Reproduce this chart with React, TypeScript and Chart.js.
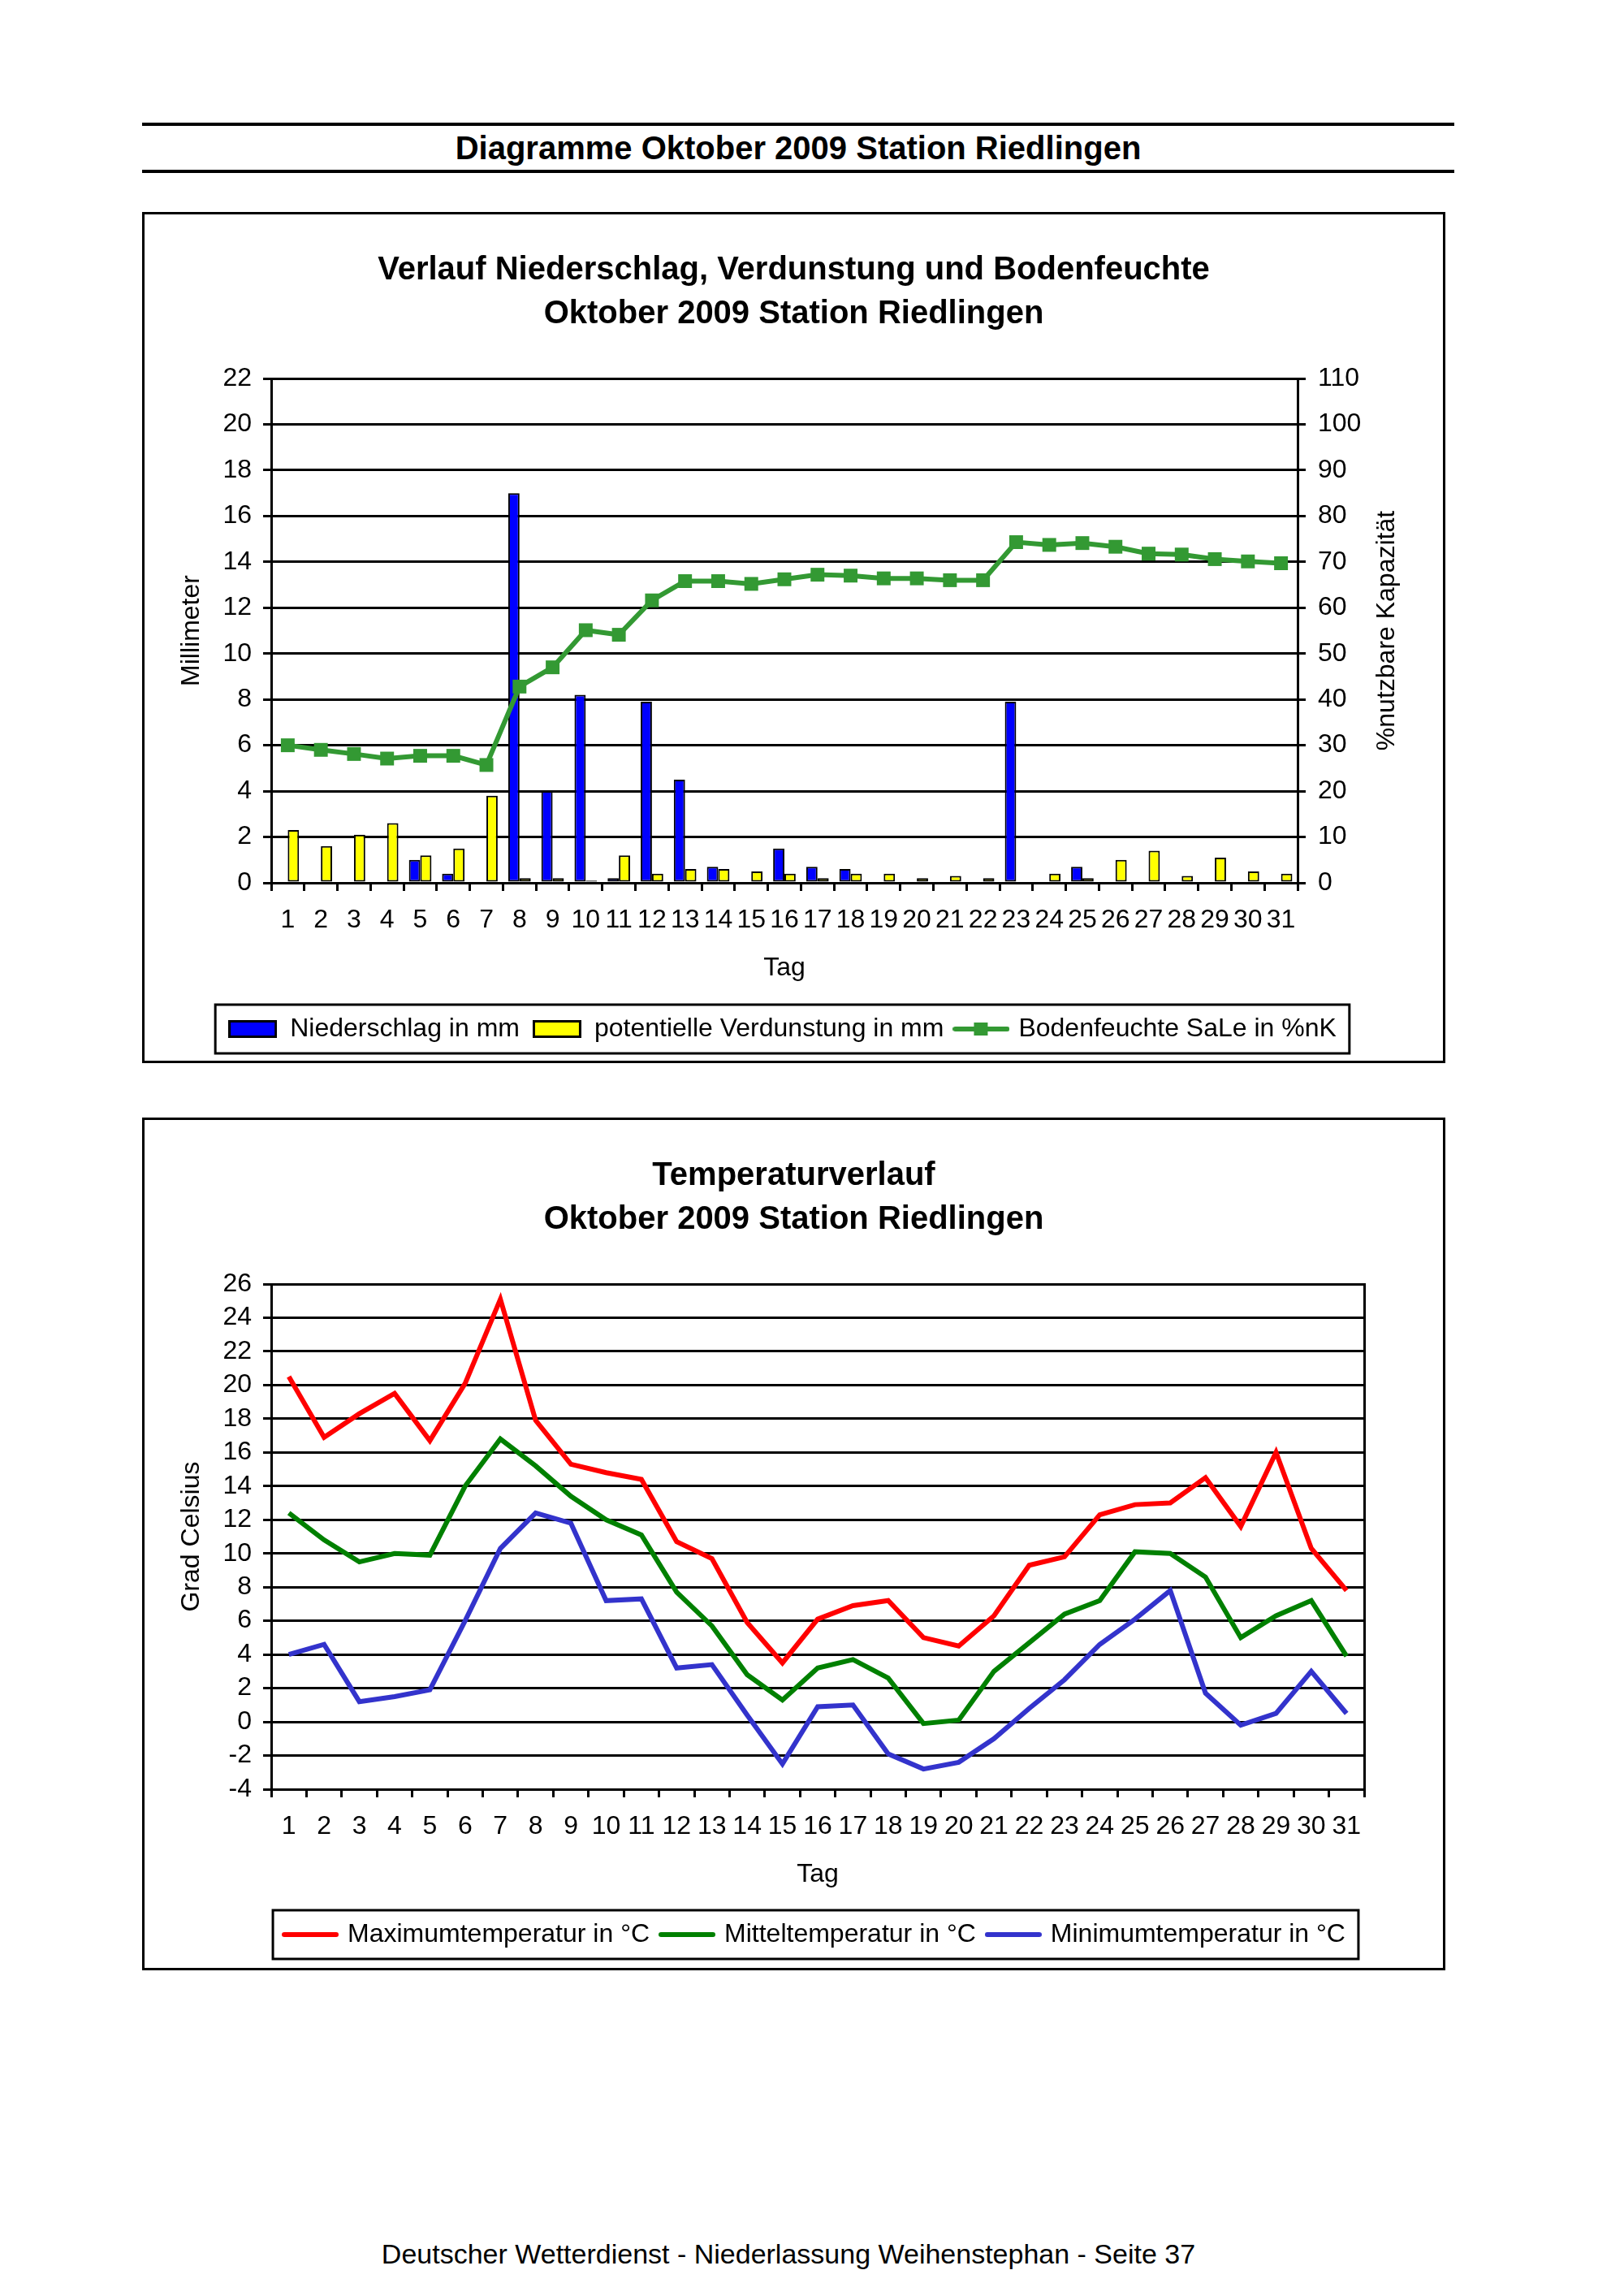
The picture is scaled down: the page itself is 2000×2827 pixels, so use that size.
import React, { useEffect, useRef } from 'react';
import { Chart, registerables } from 'chart.js';

Chart.register(...registerables);

const FONT = '"Liberation Sans", Arial, Helvetica, sans-serif';
Chart.defaults.font.family = FONT;
Chart.defaults.color = '#000';

// ---------- data ----------
const days = ['1', '2', '3', '4', '5', '6', '7', '8', '9', '10', '11', '12', '13', '14', '15', '16',
  '17', '18', '19', '20', '21', '22', '23', '24', '25', '26', '27', '28', '29', '30', '31'];

const niederschlag = [0, 0, 0, 0, 1.0, 0.4, 0, 17.0, 4.0, 8.2, 0.2, 7.9, 4.5, 0.7, 0, 1.5,
  0.7, 0.6, 0, 0, 0, 0, 7.9, 0, 0.7, 0, 0, 0, 0, 0, 0];
const verdunstung = [2.3, 1.6, 2.1, 2.6, 1.2, 1.5, 3.8, 0.2, 0.2, 0.1, 1.2, 0.4, 0.6, 0.6, 0.5, 0.4,
  0.2, 0.4, 0.4, 0.2, 0.3, 0.2, 0, 0.4, 0.2, 1.0, 1.4, 0.3, 1.1, 0.5, 0.4];
const bodenfeuchte = [30.0, 29.0, 28.1, 27.1, 27.7, 27.7, 25.7, 42.8, 47.0, 55.1, 54.1, 61.6, 65.8, 65.8, 65.2, 66.2,
  67.2, 67.0, 66.4, 66.4, 66.0, 66.0, 74.3, 73.7, 74.1, 73.3, 71.8, 71.6, 70.6, 70.1, 69.7];

const tMax = [20.5, 16.9, 18.3, 19.5, 16.7, 20.1, 25.1, 17.9, 15.3, 14.8, 14.4, 10.7, 9.7, 5.9, 3.5, 6.1,
  6.9, 7.2, 5.0, 4.5, 6.3, 9.3, 9.8, 12.3, 12.9, 13.0, 14.5, 11.6, 16.0, 10.3, 7.8];
const tMittel = [12.4, 10.8, 9.5, 10.0, 9.9, 14.0, 16.8, 15.2, 13.4, 12.0, 11.1, 7.7, 5.7, 2.8, 1.3, 3.2,
  3.7, 2.6, -0.1, 0.1, 3.0, 4.7, 6.4, 7.2, 10.1, 10.0, 8.6, 5.0, 6.3, 7.2, 3.9];
const tMin = [4.0, 4.6, 1.2, 1.5, 1.9, 6.0, 10.3, 12.4, 11.8, 7.2, 7.3, 3.2, 3.4, 0.4, -2.5, 0.9,
  1.0, -1.9, -2.8, -2.4, -1.0, 0.8, 2.5, 4.6, 6.1, 7.8, 1.7, -0.2, 0.5, 3.0, 0.5];

const pageTitle = 'Diagramme Oktober 2009 Station Riedlingen';
const chart1Title = ['Verlauf Niederschlag, Verdunstung und Bodenfeuchte', 'Oktober 2009 Station Riedlingen'];
const chart2Title = ['Temperaturverlauf', 'Oktober 2009 Station Riedlingen'];
const chart1Labels = ['Niederschlag in mm', 'potentielle Verdunstung in mm', 'Bodenfeuchte SaLe in %nK'];
const chart2Labels = ['Maximumtemperatur in °C', 'Mitteltemperatur in °C', 'Minimumtemperatur in °C'];
const xTitle = 'Tag';
const y1Title = 'Millimeter';
const y1RightTitle = '%nutzbare Kapazität';
const y2Title = 'Grad Celsius';
const footer = 'Deutscher Wetterdienst - Niederlassung Weihenstephan - Seite 37';

// ---------- helpers ----------
const tickFont = { family: FONT, size: 32, lineHeight: 1.2 };

function boxIcon(fill: string) {
  const c = document.createElement('canvas');
  c.width = 60; c.height = 22;
  const ctx = c.getContext('2d')!;
  ctx.fillStyle = '#000';
  ctx.fillRect(0, 0, 60, 22);
  ctx.fillStyle = fill;
  ctx.fillRect(3, 3, 54, 16);
  return c;
}

function lineIcon(color: string, marker: boolean) {
  const c = document.createElement('canvas');
  c.width = 70; c.height = 20;
  const ctx = c.getContext('2d')!;
  ctx.strokeStyle = color;
  ctx.lineWidth = 6;
  ctx.lineCap = 'round';
  ctx.beginPath();
  ctx.moveTo(3, 10);
  ctx.lineTo(67, 10);
  ctx.stroke();
  if (marker) {
    ctx.fillStyle = color;
    ctx.fillRect(26, 2, 17, 16);
  }
  return c;
}

const legendFrame = (dx: number) => ({
  id: 'legendFrame',
  afterLayout(chart: any) {
    const l = chart.legend;
    if (l) { l.left += dx; l.right += dx; }
  },
  afterDraw(chart: any) {
    const l = chart.legend;
    if (!l || !l.lineWidths) return;
    const pad = l.options.labels.padding;
    const span = l.lineWidths[0] - pad;
    const cx = (l.left + l.right) / 2;
    const cy = l.top + pad + 16;
    const ctx = chart.ctx;
    ctx.save();
    ctx.lineWidth = 3;
    ctx.strokeStyle = '#000';
    ctx.strokeRect(cx - span / 2 - 16, cy - 30, span + 32, 60);
    ctx.restore();
  },
});

const rightTitlePlugin = {
  id: 'rightTitle',
  afterDraw(chart: any) {
    const s = chart.scales.y1;
    const ctx = chart.ctx;
    ctx.save();
    ctx.translate(s.left + 110, (s.top + s.bottom) / 2);
    ctx.rotate(-Math.PI / 2);
    ctx.font = `32px ${FONT}`;
    ctx.fillStyle = '#000';
    ctx.textAlign = 'center';
    ctx.textBaseline = 'middle';
    ctx.fillText(y1RightTitle, 0, 0);
    ctx.restore();
  },
};

function legendOptions(icons: any[]) {
  return {
    display: true,
    position: 'bottom',
    labels: {
      usePointStyle: true,
      pointStyleWidth: 60,
      padding: 16,
      font: tickFont,
      color: '#000',
      sort: (a: any, b: any) => a.datasetIndex - b.datasetIndex,
      generateLabels: (chart: any) => {
        const items = (Chart.defaults.plugins.legend.labels as any).generateLabels(chart);
        return items.map((it: any) => ({ ...it, pointStyle: icons[it.datasetIndex], fontColor: '#000', lineWidth: 0 }));
      },
    },
  };
}

function xScale(titlePadBottom: number, height: number) {
  return {
    type: 'category',
    offset: true,
    grid: { display: true, drawOnChartArea: false, drawTicks: true, tickLength: 10, offset: true, color: '#000', lineWidth: 3 },
    border: { display: true, color: '#000', width: 3 },
    ticks: { font: tickFont, color: '#000', padding: 17, autoSkip: false, maxRotation: 0, minRotation: 0 },
    title: { display: true, text: xTitle, font: tickFont, color: '#000', padding: { top: 0, bottom: titlePadBottom } },
    afterFit: (s: any) => { s.height = height; },
  };
}

function makeChart1(canvas: HTMLCanvasElement) {
  const icons = [boxIcon('#0000ff'), boxIcon('#ffff00'), lineIcon('#339933', true)];
  return new Chart(canvas, {
    type: 'bar',
    data: {
      labels: days,
      datasets: [
        { type: 'bar', label: chart1Labels[0], data: niederschlag, backgroundColor: '#0000ff', borderColor: '#000', borderWidth: 2, borderSkipped: false, categoryPercentage: 0.68, barPercentage: 1.0, yAxisID: 'y', order: 1 },
        { type: 'bar', label: chart1Labels[1], data: verdunstung, backgroundColor: '#ffff00', borderColor: '#000', borderWidth: 2, borderSkipped: false, categoryPercentage: 0.68, barPercentage: 1.0, yAxisID: 'y', order: 1 },
        { type: 'line', label: chart1Labels[2], data: bodenfeuchte, borderColor: '#339933', backgroundColor: '#339933', borderWidth: 6, pointStyle: 'rect', pointRadius: 12, pointBorderWidth: 0, pointBackgroundColor: '#339933', tension: 0, yAxisID: 'y1', order: 0 },
      ],
    } as any,
    options: {
      responsive: false,
      animation: false,
      events: [],
      layout: { padding: { left: 0, right: 0, top: 0, bottom: 13 } },
      plugins: {
        title: { display: true, text: chart1Title, color: '#000', font: { family: FONT, size: 40, weight: 'bold', lineHeight: 1.35 }, padding: { top: 42, bottom: 52 } },
        legend: legendOptions(icons),
        tooltip: { enabled: false },
      },
      scales: {
        x: xScale(24, 148),
        y: {
          position: 'left', min: 0, max: 22,
          ticks: { stepSize: 2, font: tickFont, color: '#000', padding: 14 },
          grid: { color: '#000', lineWidth: 3, tickLength: 10 },
          border: { display: true, color: '#000', width: 3 },
          title: { display: true, text: y1Title, font: tickFont, color: '#000', padding: { top: 39, bottom: 0 } },
          afterFit: (s: any) => { s.width = 156; },
        },
        y1: {
          position: 'right', min: 0, max: 110,
          ticks: { stepSize: 10, font: tickFont, color: '#000', padding: 15 },
          grid: { drawOnChartArea: false, color: '#000', lineWidth: 3, tickLength: 10 },
          border: { display: true, color: '#000', width: 3 },
          afterFit: (s: any) => { s.width = 179; },
        },
      },
    } as any,
    plugins: [legendFrame(-14), rightTitlePlugin] as any,
  });
}

function makeChart2(canvas: HTMLCanvasElement) {
  const icons = [lineIcon('#ff0000', false), lineIcon('#008000', false), lineIcon('#3333cc', false)];
  const line = (label: string, data: number[], color: string) => ({
    type: 'line', label, data, borderColor: color, backgroundColor: color, borderWidth: 6, pointRadius: 0, tension: 0, fill: false, yAxisID: 'y',
  });
  return new Chart(canvas, {
    type: 'line',
    data: {
      labels: days,
      datasets: [
        line(chart2Labels[0], tMax, '#ff0000'),
        line(chart2Labels[1], tMittel, '#008000'),
        line(chart2Labels[2], tMin, '#3333cc'),
      ],
    } as any,
    options: {
      responsive: false,
      animation: false,
      events: [],
      layout: { padding: { left: 0, right: 0, top: 0, bottom: 15 } },
      plugins: {
        title: { display: true, text: chart2Title, color: '#000', font: { family: FONT, size: 40, weight: 'bold', lineHeight: 1.35 }, padding: { top: 42, bottom: 52 } },
        legend: legendOptions(icons),
        tooltip: { enabled: false },
      },
      scales: {
        x: xScale(23, 147),
        y: {
          position: 'left', min: -4, max: 26,
          ticks: { stepSize: 2, font: tickFont, color: '#000', padding: 14 },
          grid: { color: '#000', lineWidth: 3, tickLength: 10 },
          border: { display: true, color: '#000', width: 3 },
          title: { display: true, text: y2Title, font: tickFont, color: '#000', padding: { top: 39, bottom: 0 } },
          afterFit: (s: any) => { s.width = 156; },
        },
        y2: {
          position: 'right', min: -4, max: 26,
          ticks: { display: false },
          grid: { display: true, drawOnChartArea: false, drawTicks: false },
          border: { display: true, color: '#000', width: 3 },
          afterFit: (s: any) => { s.width = 97; },
        },
      },
    } as any,
    plugins: [legendFrame(27)] as any,
  });
}

function ChartCanvas({ make, width, height }: { make: (c: HTMLCanvasElement) => Chart; width: number; height: number }) {
  const ref = useRef<HTMLCanvasElement>(null);
  useEffect(() => {
    const chart = make(ref.current!);
    return () => chart.destroy();
  }, []);
  return <canvas ref={ref} width={width} height={height} style={{ display: 'block', width, height }} />;
}

export default function App() {
  const frame = (top: number, height: number): React.CSSProperties => ({
    position: 'absolute', left: 175, top, width: 1605, height, border: '3px solid #000', boxSizing: 'border-box', background: '#fff',
  });
  return (
    <div style={{ position: 'absolute', left: 0, top: 0, width: 2000, height: 2827, background: '#fff', fontFamily: FONT, color: '#000' }}>
      <div style={{ position: 'absolute', left: 175, top: 151, width: 1616, height: 4, background: '#000' }} />
      <div style={{ position: 'absolute', left: 175, top: 158, width: 1616, height: 48, lineHeight: '48px', textAlign: 'center', fontWeight: 'bold', fontSize: 40 }}>
        {pageTitle}
      </div>
      <div style={{ position: 'absolute', left: 175, top: 209, width: 1616, height: 4, background: '#000' }} />

      <div style={frame(261, 1048)}>
        <ChartCanvas make={makeChart1} width={1599} height={1042} />
      </div>
      <div style={frame(1376, 1050)}>
        <ChartCanvas make={makeChart2} width={1599} height={1044} />
      </div>

      <div style={{ position: 'absolute', left: 0, top: 2755, width: 1942, height: 40, lineHeight: '40px', textAlign: 'center', fontSize: 34 }}>
        {footer}
      </div>
    </div>
  );
}
